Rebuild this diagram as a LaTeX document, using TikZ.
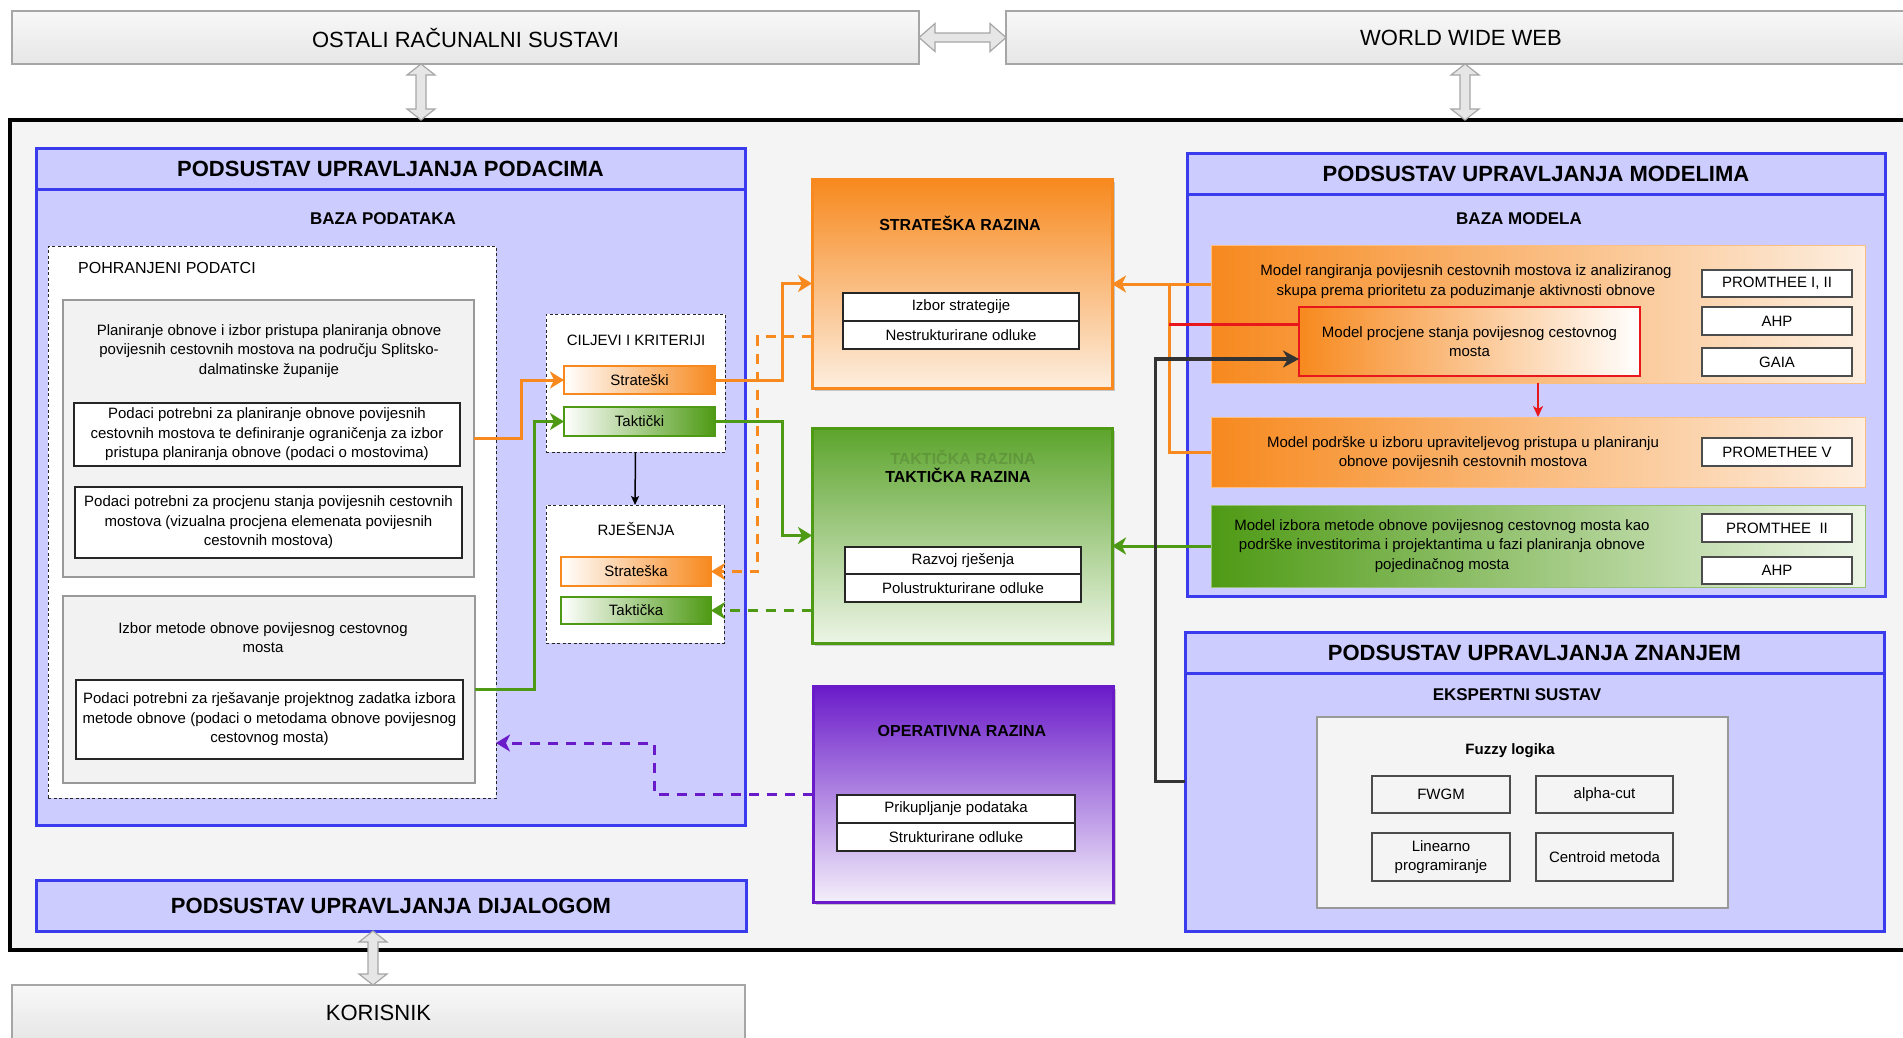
\documentclass[tikz,border=0pt]{standalone}
\usepackage{fontspec}
\setmainfont{Liberation Sans}
\usetikzlibrary{arrows.meta,calc,shadows}
\definecolor{cOr}{HTML}{F7891E}
\definecolor{cOrL}{HTML}{FDEEDF}
\definecolor{cGr}{HTML}{4E9A14}
\definecolor{cGrT}{HTML}{5CA42C}
\definecolor{cGrL}{HTML}{EDF5E6}
\definecolor{cPu}{HTML}{6A1BC9}
\definecolor{cPuL}{HTML}{F4EFFB}
\definecolor{cBl}{HTML}{3B3BEE}
\definecolor{cBlF}{HTML}{CCCCFF}
\definecolor{cBg}{HTML}{F4F4F4}
\definecolor{cGy}{HTML}{F2F2F2}
\definecolor{cRed}{HTML}{E8171C}
\definecolor{cDk}{HTML}{333333}
\definecolor{cHol}{HTML}{E6E6E6}
\definecolor{cHolB}{HTML}{A6A6A6}
\definecolor{cTopA}{HTML}{F8F8F8}
\definecolor{cTopB}{HTML}{E6E6E6}
\newcommand\ftb{\fontsize{15}{19.5}\selectfont}
\newcommand\fttitle{\fontsize{22}{26}\selectfont\bfseries}
\newcommand\ftsub{\fontsize{17}{20}\selectfont\bfseries}
\newcommand\ftlev{\fontsize{16}{19}\selectfont\bfseries}
\newcommand\fttop{\fontsize{22}{26}\selectfont}
\newcommand\ftlab{\fontsize{16}{19}\selectfont}
% vertical hollow double arrow: #1 upper point, #2 lower point
\newcommand\vhol[2]{\draw[hol] let \p1=(#1), \p2=(#2) in
 (\x1,\y1) -- (\x1+14pt,\y1-11pt) -- (\x1+5pt,\y1-11pt) -- (\x1+5pt,\y2+11pt) -- (\x1+14pt,\y2+11pt) -- (\x1,\y2)
 -- (\x1-14pt,\y2+11pt) -- (\x1-5pt,\y2+11pt) -- (\x1-5pt,\y1-11pt) -- (\x1-14pt,\y1-11pt) -- cycle;}
% horizontal hollow double arrow: #1 left point, #2 right point
\newcommand\hhol[2]{\draw[hol] let \p1=(#1), \p2=(#2) in
 (\x1,\y1) -- (\x1+16pt,\y1+14pt) -- (\x1+16pt,\y1+4.5pt) -- (\x2-16pt,\y1+4.5pt) -- (\x2-16pt,\y1+14pt) -- (\x2,\y1)
 -- (\x2-16pt,\y1-14pt) -- (\x2-16pt,\y1-4.5pt) -- (\x1+16pt,\y1-4.5pt) -- (\x1+16pt,\y1-14pt) -- cycle;}
\newcommand\bx[6][]{\node[box,minimum width=#4,minimum height=#5,#1] (#2) at (#3) {#6};}
\begin{document}
\begin{tikzpicture}[x=1pt,y=-1pt,line join=miter,
 every node/.append style={font=\ftb,align=center,inner sep=0pt},
 box/.style={anchor=north west,inner sep=0pt,outer sep=0pt,align=center},
 topbox/.style={box,draw=cHolB,line width=1.2,top color=cTopA,bottom color=cTopB,font=\fttop},
 mainbox/.style={box,draw=black,line width=4,fill=cBg},
 bluebox/.style={box,draw=cBl,line width=3,fill=cBlF},
 dashbox/.style={box,draw=black!85,line width=1,dash pattern=on 3pt off 2.5pt,fill=white},
 greybox/.style={box,draw=black!40,line width=1.5,fill=cGy},
 whitebox/.style={box,draw=black!85,line width=1.5,fill=white},
 ominibox/.style={box,draw=cOr,line width=2.5,left color=white,right color=cOr},
 gminibox/.style={box,draw=cGr,line width=2.5,left color=white,right color=cGr},
 levelbox/.style={box,line width=3,drop shadow={shadow xshift=3pt,shadow yshift=-3pt,fill=black!35,opacity=.6}},
 lvinner/.style={box,draw=black!85,line width=1.2,fill=white},
 omodel/.style={box,draw=cOr!55,line width=1,left color=cOr,right color=cOrL},
 gmodel/.style={box,draw=cGr!60,line width=1,left color=cGr,right color=cGrL},
 redbox/.style={box,draw=cRed,line width=1.5,left color=cOr,right color=white},
 methbox/.style={box,draw=black!70,line width=1.5,fill=white},
 fuzbox/.style={box,draw=black!70,line width=1.2,fill=cBg},
 arrtip/.style={-{Stealth[length=14pt,width=17pt,inset=4pt]}},
 oarr/.style={draw=cOr,line width=3,arrtip},
 garr/.style={draw=cGr,line width=3,arrtip},
 oline/.style={draw=cOr,line width=3},
 odash/.style={draw=cOr,line width=3,dash pattern=on 10pt off 8pt,arrtip},
 gdash/.style={draw=cGr,line width=3,dash pattern=on 10pt off 8pt,arrtip},
 pdash/.style={draw=cPu,line width=3,dash pattern=on 10pt off 8pt,arrtip},
 rline/.style={draw=cRed,line width=3},
 rarr/.style={draw=cRed,line width=2,-{Stealth[length=11pt,width=10pt,inset=3pt]}},
 darr/.style={draw=cDk,line width=3.5,-{Stealth[length=16pt,width=17pt,inset=5pt]}},
 blk/.style={draw=black,line width=1.5,-{Stealth[length=9pt,width=8pt,inset=2pt]}},
 hol/.style={draw=cHolB,line width=1.2,fill=cHol}
]
\useasboundingbox (0,0) rectangle (1903,1037);
\clip (0,0) rectangle (1903,1037);
\fill[white] (0,0) rectangle (1903,1037);

% main frame
\bx[mainbox]{main}{10,120}{1900}{830}{}

% outer systems
\bx[topbox]{ostali}{12,11}{907}{53}{OSTALI RAČUNALNI SUSTAVI}
\bx[topbox]{www}{1006,11}{910}{53}{WORLD WIDE WEB}
\bx[topbox]{kor}{12,985}{733}{56}{KORISNIK}

% data subsystem
\bx[bluebox]{pud}{36,148}{709}{677}{}
\bx[bluebox,font=\fttitle]{pudh}{36,148}{709}{41}{PODSUSTAV UPRAVLJANJA PODACIMA}
\node[font=\ftsub] (bazap) at (383,219) {BAZA PODATAKA};
\bx[dashbox]{pohr}{48,246}{448}{552}{}
\node[font=\ftlab,anchor=west] (pohrt) at (78,268) {POHRANJENI PODATCI};
\bx[greybox]{g1}{63,300}{411}{277}{}
\node (g1t) at (269,351) {Planiranje obnove i izbor pristupa planiranja obnove\\povijesnih cestovnih mostova na području Splitsko-\\dalmatinske županije};
\bx[whitebox]{bA}{74,403}{386}{63}{Podaci potrebni za planiranje obnove povijesnih\\cestovnih mostova te definiranje ograničenja za izbor\\pristupa planiranja obnove (podaci o mostovima)}
\bx[whitebox]{bB}{75,487}{387}{71}{Podaci potrebni za procjenu stanja povijesnih cestovnih\\mostova (vizualna procjena elemenata povijesnih\\cestovnih mostova)}
\bx[greybox]{g2}{63,596}{412}{187}{}
\node (g2t) at (263,637.5) {Izbor metode obnove povijesnog cestovnog\\mosta};
\bx[whitebox]{bC}{76,680}{387}{79}{Podaci potrebni za rješavanje projektnog zadatka izbora\\metode obnove (podaci o metodama obnove povijesnog\\cestovnog mosta)}

\bx[dashbox]{cil}{546,314}{179}{138}{}
\node (cilt) at (636,340) {CILJEVI I KRITERIJI};
\bx[ominibox]{sti}{564,366}{151}{28}{Strateški}
\bx[gminibox]{tak}{564,407}{151}{29}{Taktički}
\bx[dashbox]{rje}{546,505}{178}{138}{}
\node (rjet) at (636,529) {RJEŠENJA};
\bx[ominibox]{sta}{561,557}{150}{29}{Strateška}
\bx[gminibox]{tka}{561,597}{150}{27}{Taktička}

% dialog subsystem
\bx[bluebox,font=\fttitle]{dij}{36,880}{710}{51}{PODSUSTAV UPRAVLJANJA DIJALOGOM}

% decision levels
\bx[levelbox,draw=cOr,top color=cOr,bottom color=cOrL]{SR}{812,179}{300}{209}{}
\node[font=\ftlev] (SRt) at (960,223) {STRATEŠKA RAZINA};
\bx[lvinner]{SR1}{843,293}{236}{28}{Izbor strategije}
\bx[lvinner]{SR2}{843,321}{236}{28}{Nestrukturirane odluke}

\bx[levelbox,draw=cGr,top color=cGrT,bottom color=cGrL]{TR}{812,428}{300}{215}{}
\node[font=\ftlev,opacity=.13] (TRg) at (963,457) {TAKTIČKA RAZINA};
\node[font=\ftlev] (TRt) at (958,475) {TAKTIČKA RAZINA};
\bx[lvinner]{TR1}{845,547}{236}{27}{Razvoj rješenja}
\bx[lvinner]{TR2}{845,574}{236}{28}{Polustrukturirane odluke}

\bx[levelbox,draw=cPu,top color=cPu,bottom color=cPuL]{OR}{813,686}{300}{216}{}
\node[font=\ftlev] (ORt) at (962,731) {OPERATIVNA RAZINA};
\bx[lvinner]{OR1}{837,795}{238}{28}{Prikupljanje podataka}
\bx[lvinner]{OR2}{837,823}{238}{28}{Strukturirane odluke}

% model subsystem
\bx[bluebox]{pum}{1187,153}{698}{443}{}
\bx[bluebox,font=\fttitle]{pumh}{1187,153}{698}{41}{PODSUSTAV UPRAVLJANJA MODELIMA}
\node[font=\ftsub] (bazam) at (1519,219) {BAZA MODELA};
\bx[omodel]{m1}{1211,245}{654}{138}{}
\node (m1t) at (1466,281.5) {Model rangiranja povijesnih cestovnih mostova iz analiziranog\\skupa prema prioritetu za poduzimanje aktivnosti obnove};
\bx[redbox]{red}{1299,307}{341}{69}{Model procjene stanja povijesnog cestovnog\\mosta}
\bx[methbox]{p1}{1702,270}{150}{27}{PROMTHEE I, II}
\bx[methbox]{ahp1}{1702,307}{150}{28}{AHP}
\bx[methbox]{gaia}{1702,348}{150}{28}{GAIA}
\bx[omodel]{m2}{1211,417}{654}{70}{}
\node (m2t) at (1463,453) {Model podrške u izboru upraviteljevog pristupa u planiranju\\obnove povijesnih cestovnih mostova};
\bx[methbox]{p5}{1702,438}{150}{28}{PROMETHEE V}
\bx[gmodel]{m3}{1211,505}{654}{82}{}
\node (m3t) at (1442,546) {Model izbora metode obnove povijesnog cestovnog mosta kao\\podrške investitorima i projektantima u fazi planiranja obnove\\pojedinačnog mosta};
\bx[methbox]{p2}{1702,514}{150}{28}{PROMTHEE\ \ II}
\bx[methbox]{ahp2}{1702,557}{150}{27}{AHP}

% knowledge subsystem
\bx[bluebox]{puz}{1185,632}{699}{299}{}
\bx[bluebox,font=\fttitle]{puzh}{1185,632}{699}{41}{PODSUSTAV UPRAVLJANJA ZNANJEM}
\node[font=\ftsub] (eks) at (1517,695) {EKSPERTNI SUSTAV};
\bx[greybox,fill=cBg]{fz}{1317,717}{411}{191}{}
\node[font=\ftb\bfseries] (fzt) at (1510,751) {Fuzzy logika};
\bx[fuzbox]{fwgm}{1372,776}{138}{37}{FWGM}
\bx[fuzbox]{alc}{1536,776}{137}{37}{alpha-cut}
\bx[fuzbox]{lin}{1372,833}{138}{48}{Linearno\\programiranje}
\bx[fuzbox]{cen}{1536,833}{137}{48}{Centroid metoda}

% ---------- connectors ----------
\draw[oarr] (g1.east) -| ($(sti.west)+(-43,0)$) -- (sti.west);
\draw[garr] (g2.east) -| ($(tak.west)+(-30,0)$) -- (tak.west);
\draw[oarr] (sti.east) -| ($(SR.west)+(-29.5,0)$) -- (SR.west);
\draw[garr] (tak.east) -| ($(TR.west)+(-29.5,0)$) -- (TR.west);
\coordinate (sd) at (757.7,336);
\draw[odash] (sd -| SR.west) -- (sd) |- (sta.east);
\draw[gdash] (TR.west |- tka.east) -- (tka.east);
\coordinate (pj) at (654.4,743);
\draw[pdash] (OR.west) -| (pj) -- (pj -| pohr.east);
\draw[blk] (cil.south) -- (rje.north);

\coordinate (oj) at (1169,284);
\draw[oline] (m2.west) -| (oj);
\coordinate (rj) at (1169,324);
\draw[rline] (rj -| red.west) -- (rj);
\draw[oarr] (oj -| m1.west) -- (oj -| SR.east);
\coordinate (rx) at (1538,0);
\draw[rarr] (m1.south -| rx) -- (m2.north -| rx);
\draw[garr] (m3.west) -- (m3.west -| TR.east);
\coordinate (dj) at (1155.5,359);
\draw[darr] (puz.west) -| (dj) -- (dj -| red.west);

% hollow double arrows
\coordinate (ax1) at (421,0);
\coordinate (ax2) at (1465,0);
\coordinate (ax3) at (373,0);
\vhol{ostali.south -| ax1}{main.north -| ax1}
\vhol{www.south -| ax2}{main.north -| ax2}
\hhol{ostali.east}{www.west}
\vhol{dij.south -| ax3}{kor.north -| ax3}
\end{tikzpicture}
\end{document}
